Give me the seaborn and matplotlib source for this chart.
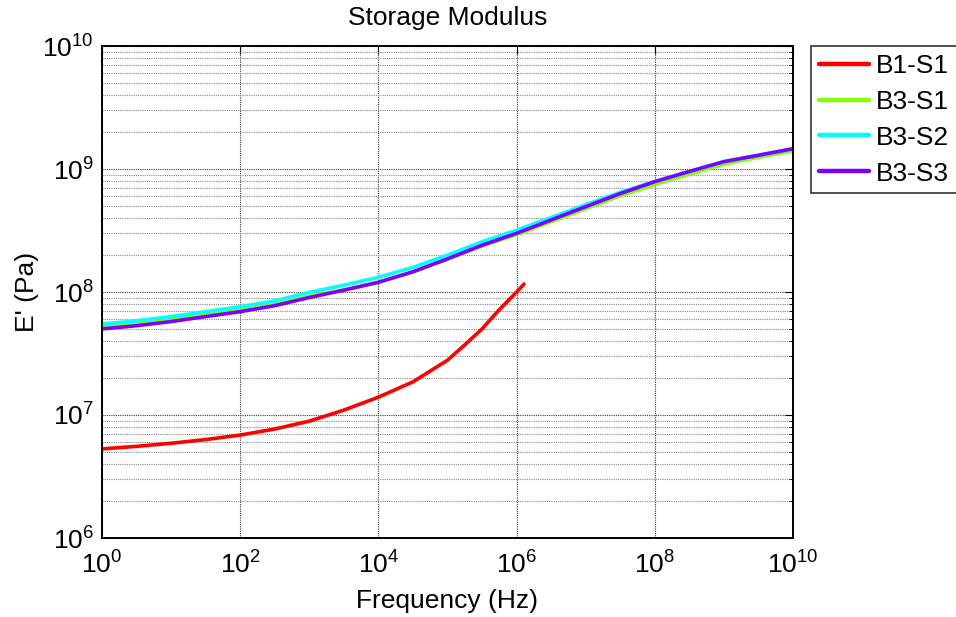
import matplotlib
matplotlib.use("Agg")
import matplotlib.pyplot as plt
import seaborn as sns
import pandas as pd
from matplotlib.ticker import FixedLocator, LogLocator, NullFormatter

# ---- data ----
freq_b1 = [1e0, 3.16e0, 1e1, 3.16e1, 1e2, 3.16e2, 1e3, 3.16e3, 1e4, 3.16e4,
           1e5, 1.78e5, 3.16e5, 5.62e5, 1e6, 1.28e6]
e_b1_s1 = [5.30e6, 5.56e6, 5.89e6, 6.31e6, 6.87e6, 7.69e6, 8.91e6, 1.096e7,
           1.396e7, 1.86e7, 2.79e7, 3.72e7, 5.01e7, 7.18e7, 1.00e8, 1.16e8]

freq_b3 = [1e0, 3.16e0, 1e1, 3.16e1, 1e2, 3.16e2, 1e3, 3.16e3, 1e4, 3.16e4,
           1e5, 3.16e5, 1e6, 3.16e6, 1e7, 3.16e7, 1e8, 3.16e8, 1e9, 3.16e9, 1e10]
e_b3_s1 = [5.19e7, 5.50e7, 5.96e7, 6.50e7, 7.11e7, 7.91e7, 9.23e7, 1.042e8,
           1.20e8, 1.452e8, 1.84e8, 2.355e8, 2.92e8, 3.73e8, 4.76e8, 6.05e8,
           7.50e8, 9.08e8, 1.096e9, 1.245e9, 1.406e9]
e_b3_s2 = [5.50e7, 5.83e7, 6.31e7, 6.92e7, 7.59e7, 8.47e7, 9.95e7, 1.135e8,
           1.318e8, 1.585e8, 1.995e8, 2.56e8, 3.18e8, 4.03e8, 5.13e8, 6.46e8,
           7.94e8, 9.55e8, 1.148e9, 1.294e9, 1.462e9]
e_b3_s3 = [5.01e7, 5.32e7, 5.75e7, 6.31e7, 6.92e7, 7.74e7, 9.02e7, 1.035e8,
           1.20e8, 1.46e8, 1.86e8, 2.40e8, 3.00e8, 3.85e8, 4.94e8, 6.31e8,
           7.89e8, 9.55e8, 1.148e9, 1.294e9, 1.462e9]

series_names = ["B1-S1", "B3-S1", "B3-S2", "B3-S3"]
series_colors = ["#FF0000", "#80FF00", "#00FFFF", "#8000FF"]

x_ticks = [1e0, 1e2, 1e4, 1e6, 1e8, 1e10]
y_ticks = [1e6, 1e7, 1e8, 1e9, 1e10]

frames = []
for name, f, e in [("B1-S1", freq_b1, e_b1_s1), ("B3-S1", freq_b3, e_b3_s1),
                   ("B3-S2", freq_b3, e_b3_s2), ("B3-S3", freq_b3, e_b3_s3)]:
    frames.append(pd.DataFrame({"Frequency": f, "E": e, "Sample": name}))
df = pd.concat(frames, ignore_index=True)

# ---- style ----
sns.set_style("white")
plt.rcParams["font.family"] = ["Liberation Sans", "DejaVu Sans"]
plt.rcParams["mathtext.fontset"] = "custom"
plt.rcParams["mathtext.rm"] = "Liberation Sans"
plt.rcParams["mathtext.it"] = "Liberation Sans"
for k in ["text.color", "axes.labelcolor", "xtick.color", "ytick.color"]:
    plt.rcParams[k] = "black"
fs = 19

fig = plt.figure(figsize=(9.56, 6.17), dpi=100)
ax = fig.add_axes([102 / 956, 1 - 538 / 617, (793 - 102) / 956, (538 - 46) / 617])

sns.lineplot(data=df, x="Frequency", y="E", hue="Sample", hue_order=series_names,
             palette=dict(zip(series_names, series_colors)), estimator=None,
             sort=False, linewidth=2.6, ax=ax)

ax.set_xscale("log")
ax.set_yscale("log")
ax.set_xlim(x_ticks[0], x_ticks[-1])
ax.set_ylim(y_ticks[0], y_ticks[-1])

ax.xaxis.set_major_locator(FixedLocator(x_ticks))
ax.xaxis.set_minor_locator(FixedLocator([]))
ax.yaxis.set_major_locator(FixedLocator(y_ticks))
ax.yaxis.set_minor_locator(LogLocator(base=10, subs=range(2, 10), numticks=20))
ax.yaxis.set_minor_formatter(NullFormatter())

ax.tick_params(axis="both", which="both", direction="in", top=True, right=True,
               labelsize=fs, colors="black")
ax.tick_params(axis="both", which="major", length=6, width=0.8)
ax.tick_params(axis="both", which="minor", length=3, width=0.6)
ax.tick_params(axis="x", which="major", pad=10)
ax.tick_params(axis="y", which="major", pad=6)

ax.grid(True, which="major", axis="both", color="#3a3a3a", linewidth=0.8,
        linestyle=(0, (1, 1)))
ax.grid(True, which="minor", axis="y", color="#8a8a8a", linewidth=0.8,
        linestyle=(0, (1, 1)))

for sp in ax.spines.values():
    sp.set_visible(True)
    sp.set_color("black")
    sp.set_linewidth(1.4)

ax.set_title("Storage Modulus", fontsize=fs, pad=15)
ax.set_xlabel("Frequency (Hz)", fontsize=fs, labelpad=7)
ax.set_ylabel("E' (Pa)", fontsize=fs, labelpad=2)

leg = ax.legend(loc="upper left", bbox_to_anchor=(811 / 956, 1 - 46 / 617),
                bbox_transform=fig.transFigure, borderaxespad=0, fontsize=fs,
                frameon=True, fancybox=False, edgecolor="black",
                handlelength=1.9, handletextpad=0.25, borderpad=0.3,
                labelspacing=0.45, title=None)
leg.get_frame().set_linewidth(1.2)
for line in leg.get_lines():
    line.set_linewidth(3.2)

fig.savefig("out.png", dpi=100, facecolor="white")
